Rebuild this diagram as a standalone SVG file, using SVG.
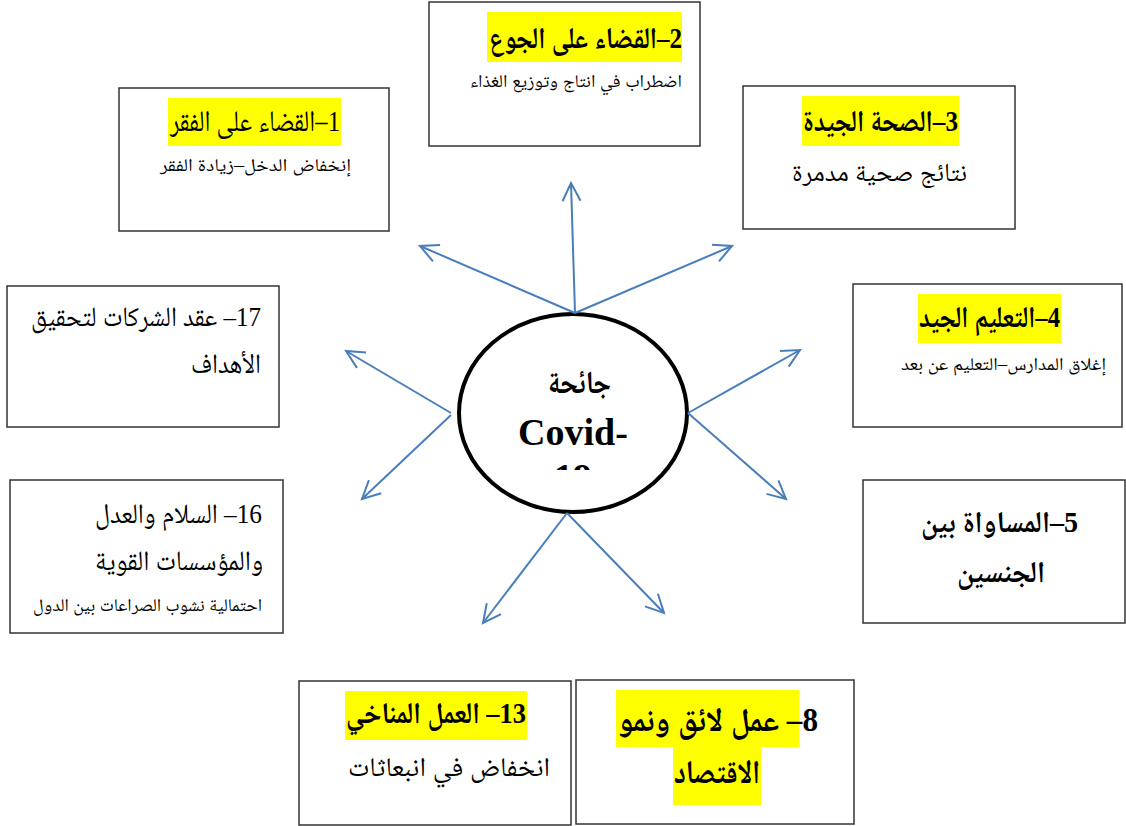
<svg xmlns="http://www.w3.org/2000/svg" width="1126" height="826" viewBox="0 0 1126 826">
<style>
.box{fill:#fff;stroke:#333;stroke-width:1.5}
.hl{fill:#ffff00}
.t{font-family:"Liberation Serif","Noto Naskh Arabic","DejaVu Sans",serif;fill:#000}
.ar{direction:rtl;unicode-bidi:embed}
.b{font-weight:bold}
.conn line{stroke:#4a7ebb;stroke-width:2;fill:none}
</style>
<defs>
<marker id="ah" markerUnits="userSpaceOnUse" markerWidth="24" markerHeight="24" viewBox="-20 -12 24 24" refX="0" refY="0" orient="auto">
<path d="M-18,-9 L0,0 L-18,9" fill="none" stroke="#4a7ebb" stroke-width="2"/>
</marker>
<clipPath id="cc"><rect x="450" y="300" width="250" height="170"/></clipPath>
</defs>

<g id="n2">
<rect class="box" x="429" y="2" width="271" height="144"/>
<rect class="hl" x="487" y="12" width="195" height="50"/>
<text class="t ar b" x="682" y="48" font-size="30" textLength="193" lengthAdjust="spacingAndGlyphs">2–القضاء على الجوع</text>
<text class="t ar" x="682" y="87" font-size="18" textLength="212" lengthAdjust="spacingAndGlyphs">اضطراب في انتاج وتوزيع الغذاء</text>
</g>

<g id="n1">
<rect class="box" x="119" y="88" width="270" height="143"/>
<rect class="hl" x="168" y="98" width="173" height="48"/>
<text class="t ar" x="340" y="131" font-size="30" textLength="170" lengthAdjust="spacingAndGlyphs">1–القضاء على الفقر</text>
<text class="t ar" x="351" y="171" font-size="18" textLength="191" lengthAdjust="spacingAndGlyphs">إنخفاض الدخل–زيادة الفقر</text>
</g>

<g id="n3">
<rect class="box" x="743" y="86" width="272" height="143"/>
<rect class="hl" x="802" y="96" width="157" height="50"/>
<text class="t ar b" x="958" y="131" font-size="30" textLength="155" lengthAdjust="spacingAndGlyphs">3–الصحة الجيدة</text>
<text class="t ar" x="967" y="181" font-size="26" textLength="175" lengthAdjust="spacingAndGlyphs">نتائج صحية مدمرة</text>
</g>

<g id="n17">
<rect class="box" x="7" y="286" width="272" height="141"/>
<text class="t ar" x="261" y="326" font-size="28" textLength="230" lengthAdjust="spacingAndGlyphs">17– عقد الشركات لتحقيق</text>
<text class="t ar" x="261" y="373" font-size="28" textLength="70" lengthAdjust="spacingAndGlyphs">الأهداف</text>
</g>

<g id="n4">
<rect class="box" x="853" y="284" width="269" height="143"/>
<rect class="hl" x="918" y="294" width="143" height="49"/>
<text class="t ar b" x="1060" y="327" font-size="30" textLength="141" lengthAdjust="spacingAndGlyphs">4–التعليم الجيد</text>
<text class="t ar" x="1106" y="370" font-size="18" textLength="205" lengthAdjust="spacingAndGlyphs">إغلاق المدارس–التعليم عن بعد</text>
</g>

<g id="n16">
<rect class="box" x="10" y="480" width="273" height="153"/>
<text class="t ar" x="262" y="523" font-size="28" textLength="167" lengthAdjust="spacingAndGlyphs">16– السلام والعدل</text>
<text class="t ar" x="263" y="570" font-size="28" textLength="168" lengthAdjust="spacingAndGlyphs">والمؤسسات القوية</text>
<text class="t ar" x="262" y="611" font-size="18" textLength="229" lengthAdjust="spacingAndGlyphs">احتمالية نشوب الصراعات بين الدول</text>
</g>

<g id="n5">
<rect class="box" x="863" y="480" width="262" height="143"/>
<text class="t ar b" x="1078" y="532" font-size="30" textLength="157" lengthAdjust="spacingAndGlyphs">5–المساواة بين</text>
<text class="t ar b" x="1045" y="582" font-size="30" textLength="88" lengthAdjust="spacingAndGlyphs">الجنسين</text>
</g>

<g id="n13">
<rect class="box" x="299" y="681" width="272" height="144"/>
<rect class="hl" x="345" y="691" width="182" height="49"/>
<text class="t ar b" x="526" y="723" font-size="30" textLength="180" lengthAdjust="spacingAndGlyphs">13– العمل المناخي</text>
<text class="t ar" x="550" y="776" font-size="27" textLength="202" lengthAdjust="spacingAndGlyphs">انخفاض في انبعاثات</text>
</g>

<g id="n8">
<rect class="box" x="576" y="680" width="278" height="144"/>
<rect class="hl" x="616" y="690" width="183" height="57"/>
<rect class="hl" x="673" y="747" width="88" height="58"/>
<text class="t ar b" x="818" y="731" font-size="33" textLength="200" lengthAdjust="spacingAndGlyphs">8– عمل لائق ونمو</text>
<text class="t ar b" x="760" y="783" font-size="33" textLength="86" lengthAdjust="spacingAndGlyphs">الاقتصاد</text>
</g>

<g id="center">
<ellipse cx="573" cy="413" rx="114" ry="99" fill="#fff" stroke="#000" stroke-width="4"/>
<g clip-path="url(#cc)">
<text class="t ar b" x="611" y="393" font-size="32" textLength="63" lengthAdjust="spacingAndGlyphs">جائحة</text>
<text class="t b" x="573" y="445" font-size="38" text-anchor="middle">Covid-</text>
<text class="t b" x="573" y="490" font-size="38" text-anchor="middle">19</text>
</g>
</g>

<g class="conn" id="connectors">
<line x1="575" y1="313" x2="571" y2="183" marker-end="url(#ah)"/>
<line x1="575" y1="313" x2="420" y2="246" marker-end="url(#ah)"/>
<line x1="575" y1="313" x2="732" y2="246" marker-end="url(#ah)"/>
<line x1="451" y1="413" x2="346" y2="351" marker-end="url(#ah)"/>
<line x1="451" y1="415" x2="362" y2="499" marker-end="url(#ah)"/>
<line x1="688" y1="413" x2="800" y2="350" marker-end="url(#ah)"/>
<line x1="688" y1="413" x2="786" y2="499" marker-end="url(#ah)"/>
<line x1="567" y1="513" x2="483" y2="623" marker-end="url(#ah)"/>
<line x1="567" y1="513" x2="664" y2="613" marker-end="url(#ah)"/>
</g>
</svg>
